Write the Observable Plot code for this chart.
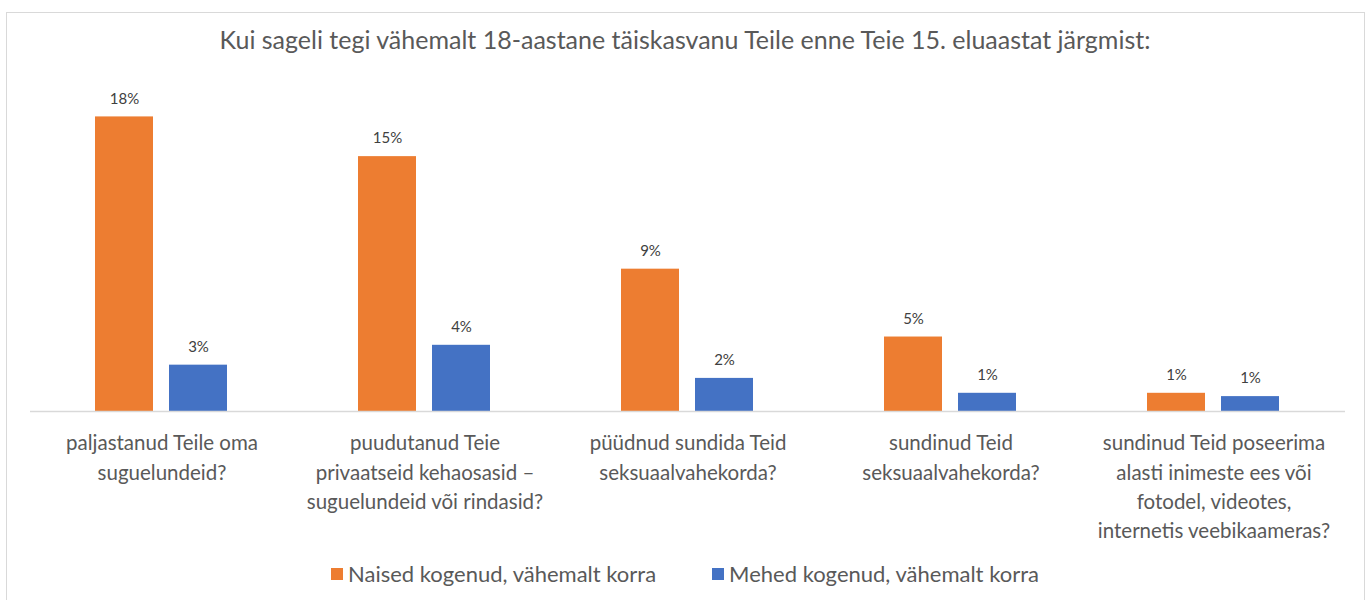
<!DOCTYPE html>
<html>
<head>
<meta charset="utf-8">
<script src="https://cdn.jsdelivr.net/npm/d3@7"></script>
<script src="https://cdn.jsdelivr.net/npm/@observablehq/plot@0.6"></script>
<style>
  html, body { margin: 0; padding: 0; background: #fff; }
  #wrap { position: relative; width: 1370px; height: 600px; overflow: hidden; font-family: Lato, "Liberation Sans", sans-serif; }
  #border { position: absolute; left: 6px; top: 12px; width: 1359px; height: 640px; border: 1px solid #d9d9d9; box-sizing: border-box; }
  #title { position: absolute; top: 24px; left: 0; width: 1370px; text-align: center; font-size: 25px; color: #595959; }
  #chart { position: absolute; left: 0; top: 0; }
  #legend { position: absolute; top: 560px; left: 0; width: 1370px; display: flex; justify-content: center; align-items: center; font-size: 22px; color: #595959; }
  .item { display: flex; align-items: center; margin: 0 28px; }
  .sw { width: 12px; height: 12px; margin-right: 5px; }
</style>
</head>
<body>
<div id="wrap">
  <div id="border"></div>
  <div id="chart"></div>
  <div id="title"></div>
  <div id="legend"></div>
</div>
<script>
const title = "Kui sageli tegi vähemalt 18-aastane täiskasvanu Teile enne Teie 15. eluaastat järgmist:";
const categories = [
  "paljastanud Teile oma\nsuguelundeid?",
  "puudutanud Teie\nprivaatseid kehaosasid –\nsuguelundeid või rindasid?",
  "püüdnud sundida Teid\nseksuaalvahekorda?",
  "sundinud Teid\nseksuaalvahekorda?",
  "sundinud Teid poseerima\nalasti inimeste ees või\nfotodel, videotes,\ninternetis veebikaameras?"
];
const series = ["Naised kogenud, vähemalt korra", "Mehed kogenud, vähemalt korra"];
const naised = [17.8, 15.4, 8.6, 4.5, 1.1];
const mehed = [2.8, 4.0, 2.0, 1.1, 0.9];
const colors = ["#ED7D31", "#4472C4"];

const data = [];
categories.forEach((c, i) => {
  data.push({cat: c, series: series[0], value: naised[i]});
  data.push({cat: c, series: series[1], value: mehed[i]});
});

const W = 1370, H = 560, mL = 29, mR = 24;
const facetW = (W - mL - mR) / categories.length;
const gridColor = "#d9d9d9";

const chart = Plot.plot({
  width: W,
  height: H,
  marginLeft: mL,
  marginRight: mR,
  marginTop: 80,
  marginBottom: 149,
  style: {fontFamily: "Lato, 'Liberation Sans', sans-serif", background: "transparent"},
  fx: {domain: categories, padding: 0, axis: null},
  x: {domain: series, paddingInner: 0.213, paddingOuter: 0.86, axis: null},
  y: {domain: [0, 20], axis: null},
  color: {domain: series, range: colors},
  marks: [
    Plot.barY(data, {fx: "cat", x: "series", y: "value", fill: "series"}),
    Plot.ruleY([0], {stroke: gridColor, strokeWidth: 1.5}),
    Plot.ruleX(categories, {fx: d => d, y1: 0, insetBottom: -7, dx: -facetW / 2, stroke: gridColor, strokeWidth: 1.5}),
    Plot.ruleX(categories, {fx: d => d, y1: 0, insetBottom: -7, dx: facetW / 2, stroke: gridColor, strokeWidth: 1.5}),
    Plot.text(data, {fx: "cat", x: "series", y: "value", text: d => Math.round(d.value) + "%", dy: -18, fontSize: 15, fill: "#404040"}),
    Plot.text(categories, {fx: d => d, text: d => d, frameAnchor: "bottom", lineAnchor: "top", dy: 18, lineHeight: 1.43, fontSize: 20.5, fill: "#595959"})
  ]
});
document.getElementById("chart").appendChild(chart);
document.getElementById("title").textContent = title;

const legend = document.getElementById("legend");
series.forEach((s, i) => {
  const item = document.createElement("div");
  item.className = "item";
  const sw = document.createElement("div");
  sw.className = "sw";
  sw.style.background = colors[i];
  const t = document.createElement("span");
  t.textContent = s;
  item.appendChild(sw);
  item.appendChild(t);
  legend.appendChild(item);
});
</script>
</body>
</html>
